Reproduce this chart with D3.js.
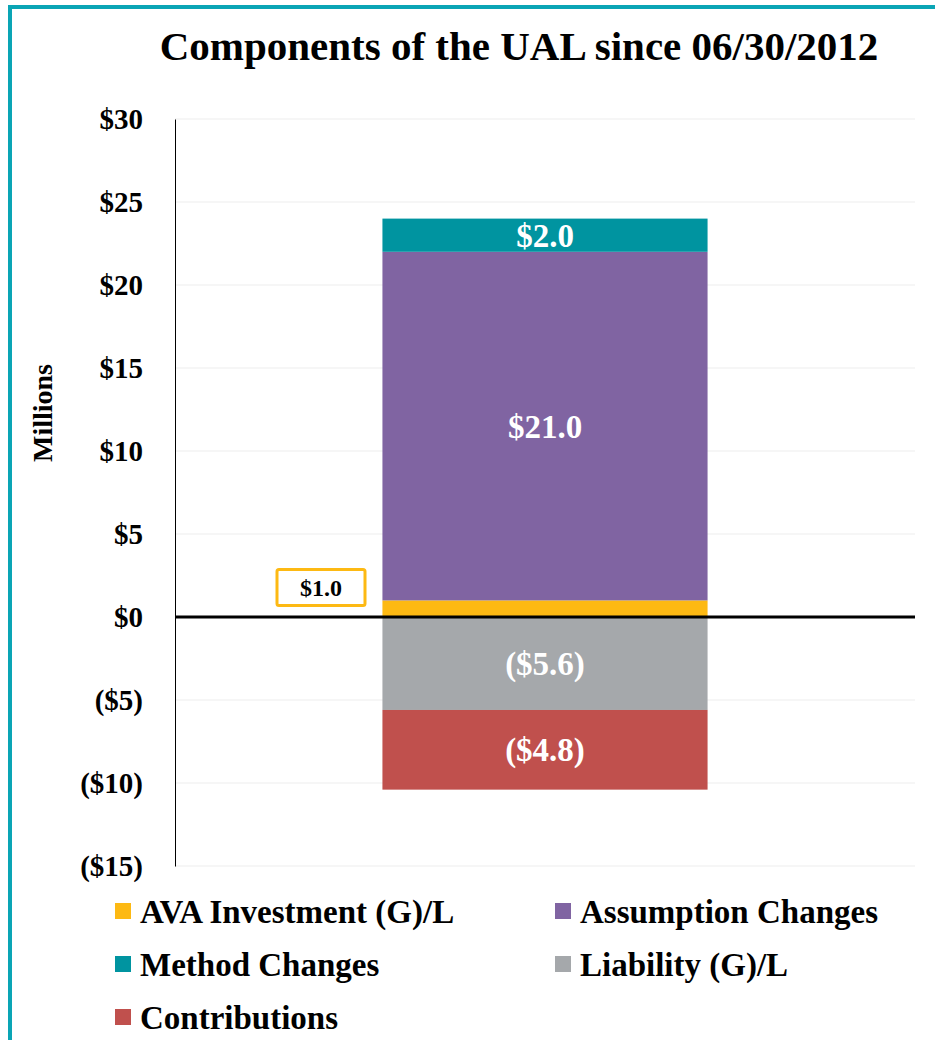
<html>
<head>
<meta charset="utf-8">
<script src="https://d3js.org/d3.v7.min.js"></script>
<style>
  body { margin: 0; background: white; }
  text { font-family: "Liberation Serif", "Times New Roman", serif; font-weight: bold; }
</style>
</head>
<body>
<script>
// data
var categories = ["UAL"];
var seriesNames = ["AVA Investment (G)/L", "Assumption Changes", "Method Changes", "Liability (G)/L", "Contributions"];
var seriesValues = [1.0, 21.0, 2.0, -5.6, -4.8];
var seriesColors = ["#FDB913", "#8064A2", "#0094A0", "#A5A8AB", "#C0504D"];
var yTicks = [30, 25, 20, 15, 10, 5, 0, -5, -10, -15];

var W = 935, H = 1040;
var svg = d3.select("body").append("svg").attr("width", W).attr("height", H);

// teal frame (left and top)
svg.append("rect").attr("x", 10).attr("y", 7).attr("width", W + 20).attr("height", H + 20)
  .attr("fill", "none").attr("stroke", "#0AA5B5").attr("stroke-width", 4);

var plotL = 175, plotR = 915;
var y = d3.scaleLinear().domain([-15, 30]).range([866, 119]);
var x = d3.scaleBand().domain(categories).range([plotL, plotR]).paddingInner(0).paddingOuter(0.638);

// title
svg.append("text").attr("x", 519).attr("y", 60).attr("text-anchor", "middle")
  .attr("font-size", 41).text("Components of the UAL since 06/30/2012");

// gridlines
svg.append("g").selectAll("line").data(yTicks).enter().append("line")
  .attr("x1", plotL).attr("x2", plotR)
  .attr("y1", function(d){ return y(d); }).attr("y2", function(d){ return y(d); })
  .attr("stroke", "#EDEDED").attr("stroke-width", 1);

// y axis
var yAxis = d3.axisLeft(y).tickValues(yTicks).tickSize(0).tickPadding(32)
  .tickFormat(function(d){ return d < 0 ? "($" + (-d) + ")" : "$" + d; });
var gy = svg.append("g").attr("transform", "translate(" + plotL + ",0)").call(yAxis);
gy.select(".domain").attr("stroke", "#000").attr("stroke-width", 1);
gy.selectAll("text").attr("font-size", 29).attr("fill", "#000")
  .style("font-family", "'Liberation Serif', serif").style("font-weight", "bold");

svg.append("text").attr("transform", "translate(52,413) rotate(-90)")
  .attr("text-anchor", "middle").attr("font-size", 28).text("Millions");

// stacked segments
var posBase = 0, negBase = 0;
var segs = seriesValues.map(function(v, i){
  var s;
  if (v >= 0) { s = {y0: posBase, y1: posBase + v}; posBase += v; }
  else { s = {y0: negBase + v, y1: negBase}; negBase += v; }
  s.v = v; s.i = i; return s;
});

svg.append("g").selectAll("rect").data(segs).enter().append("rect")
  .attr("x", x("UAL")).attr("width", x.bandwidth())
  .attr("y", function(d){ return y(d.y1); })
  .attr("height", function(d){ return y(d.y0) - y(d.y1); })
  .attr("fill", function(d){ return seriesColors[d.i]; });

// zero line
svg.append("line").attr("x1", plotL).attr("x2", plotR)
  .attr("y1", y(0)).attr("y2", y(0)).attr("stroke", "#000").attr("stroke-width", 3);

function fmt(v){ return v < 0 ? "($" + (-v).toFixed(1) + ")" : "$" + v.toFixed(1); }

// labels inside bar (skip small AVA segment)
svg.append("g").selectAll("text").data(segs.filter(function(d){ return d.i !== 0; })).enter().append("text")
  .attr("x", x("UAL") + x.bandwidth() / 2)
  .attr("y", function(d){ return (y(d.y0) + y(d.y1)) / 2; })
  .attr("dy", "0.35em").attr("text-anchor", "middle")
  .attr("font-size", 33).attr("fill", "#fff")
  .text(function(d){ return fmt(d.v); });

// callout for AVA segment
var ava = segs[0];
var boxCy = y(ava.y1) - 13;
svg.append("rect").attr("x", 277).attr("y", boxCy - 18).attr("width", 88).attr("height", 36)
  .attr("rx", 2).attr("fill", "#fff").attr("stroke", seriesColors[0]).attr("stroke-width", 3);
svg.append("text").attr("x", 321).attr("y", boxCy).attr("dy", "0.35em")
  .attr("text-anchor", "middle").attr("font-size", 24).attr("fill", "#000").text(fmt(ava.v));

// legend
var legendPos = [[115, 911], [555, 911], [115, 964], [555, 964], [115, 1017]];
var lg = svg.append("g").selectAll("g").data(seriesNames).enter().append("g")
  .attr("transform", function(d, i){ return "translate(" + legendPos[i][0] + "," + legendPos[i][1] + ")"; });
lg.append("rect").attr("x", 0).attr("y", -8).attr("width", 16).attr("height", 16)
  .attr("fill", function(d, i){ return seriesColors[i]; });
lg.append("text").attr("x", 25).attr("dy", "0.35em").attr("font-size", 33).attr("fill", "#000")
  .text(function(d){ return d; });
</script>
</body>
</html>
